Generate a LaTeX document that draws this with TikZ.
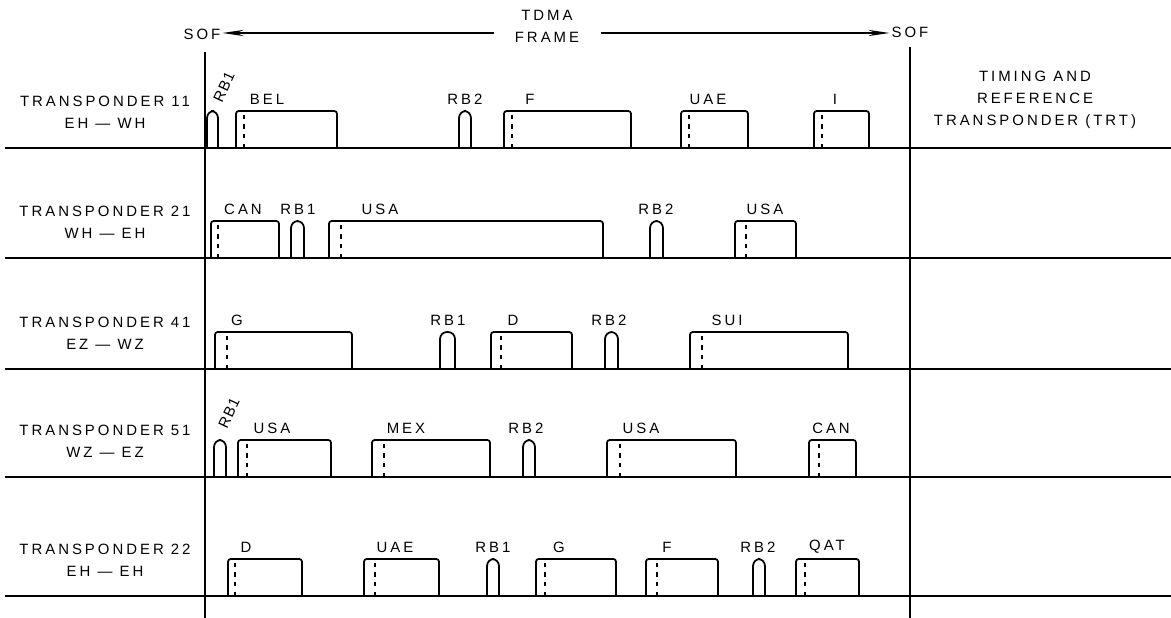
\documentclass[tikz,border=0pt]{standalone}
\usepackage{fontspec}
\setmainfont{Liberation Sans}[LetterSpace=20]
\usetikzlibrary{arrows.meta}

\tikzset{
  lbl/.style={font=\fontsize{8.5}{12.5}\selectfont, inner sep=1pt},
  rotlbl/.style={font=\fontsize{8.5}{10}\selectfont\addfontfeature{LetterSpace=6}, inner sep=0pt, rotate=65},
  burst/.style={line width=1pt, rounded corners=1.5pt},
  rbpulse/.style={line width=1pt, rounded corners=4pt},
  slotdash/.style={line width=0.8pt, dash pattern=on 2.5pt off 3pt},
  frarrow/.style={line width=0.9pt, -{Stealth[length=12pt,width=3.5pt]}}
}

\begin{document}
\begin{tikzpicture}[x=0.02cm, y=-0.02cm]
  \useasboundingbox (0,0) rectangle (1171,618);

  % frame header
  \node[lbl, align=center] (tdma) at (547,26) {TDMA\\FRAME};
  \node[lbl] (sofL) at (202,34) {SOF};
  \node[lbl] (sofR) at (910,32) {SOF};
  \coordinate (fl) at (494,33);
  \coordinate (fr) at (601,33);
  \draw[frarrow] (fl) -- (sofL.east |- fl);
  \draw[frarrow] (fr) -- (sofR.west |- fr);

  % frame boundaries and rows
  \draw[line width=1pt] (205,52) -- (205,618);
  \draw[line width=1pt] (910,47) -- (910,618);
  \foreach \b in {148,258,369,477,596}
    \draw[line width=1pt] (5,\b) -- (1171,\b);

  \node[lbl, align=center] (trt) at (1035,100) {TIMING AND\\REFERENCE\\TRANSPONDER (TRT)};

  % row labels
  \node[lbl, align=center] (t11) at (105,112) {TRANSPONDER 11\\EH — WH};
  \node[lbl, align=center] (t21) at (105,222) {TRANSPONDER 21\\WH — EH};
  \node[lbl, align=center] (t41) at (105,333) {TRANSPONDER 41\\EZ — WZ};
  \node[lbl, align=center] (t51) at (105,441) {TRANSPONDER 51\\WZ — EZ};
  \node[lbl, align=center] (t22) at (105,560) {TRANSPONDER 22\\EH — EH};

  % traffic bursts: start/end/dash/label x/name/base
  \foreach \xa/\xb/\xd/\lx/\t/\b in {
      236/337/244/267/BEL/148, 504/631/512/530/F/148, 681/748/689/708/UAE/148, 814/869/822/835/I/148,
      211/279/218/243/CAN/258, 329/603/341/380/USA/258, 735/796/746/765/USA/258,
      215/352/227/237/G/369, 491/572/501/513/D/369, 690/848/702/727/SUI/369,
      238/331/247/272/USA/477, 372/490/384/406/MEX/477, 607/736/620/641/USA/477, 809/856/819/831/CAN/477,
      228/302/235/246/D/596, 364/439/375/395/UAE/596, 536/616/545/559/G/596, 646/718/657/667/F/596, 796/859/805/827/QAT/596}{
    \draw[burst] (\xa,\b) -- (\xa,\b-37) -- (\xb,\b-37) -- (\xb,\b);
    \draw[slotdash] (\xd,\b) -- (\xd,\b-37);
    \node[lbl] (tb-\xa-\b) at (\lx,\b-49) {\t};
  }

  % reference bursts
  \foreach \xa/\xb/\lx/\t/\b in {
      459/471/465/RB2/148,
      291/304/298/RB1/258, 650/663/656/RB2/258,
      440/455/448/RB1/369, 605/618/609/RB2/369,
      523/535/526/RB2/477,
      487/499/493/RB1/596, 753/765/758/RB2/596}{
    \draw[rbpulse] (\xa,\b) -- (\xa,\b-37) -- (\xb,\b-37) -- (\xb,\b);
    \node[lbl] (rb-\xa-\b) at (\lx,\b-49) {\t};
  }
  \draw[rbpulse] (207,148) -- (207,111) -- (218,111) -- (218,148);
  \node[rotlbl] (rb-207) at (224,87) {RB1};
  \draw[rbpulse] (214,477) -- (214,440) -- (226,440) -- (226,477);
  \node[rotlbl] (rb-214) at (229,413) {RB1};
\end{tikzpicture}
\end{document}
